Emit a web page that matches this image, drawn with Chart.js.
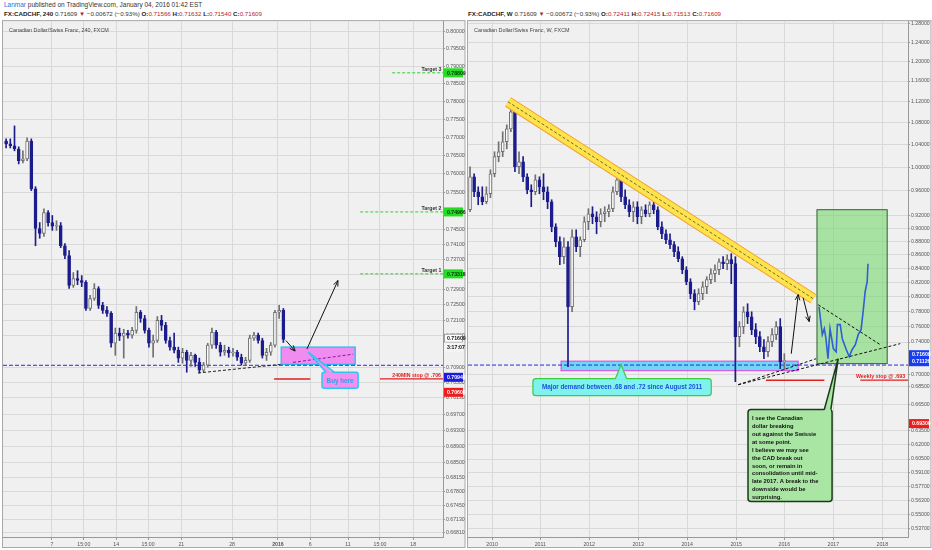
<!DOCTYPE html>
<html>
<head>
<meta charset="utf-8">
<script src="https://cdn.jsdelivr.net/npm/chart.js@4.4.1/dist/chart.umd.min.js"></script>
<style>
body { margin:0; width:932px; height:550px; background:#fff; position:relative; overflow:hidden;
       font-family:"Liberation Sans", Arial, sans-serif; }
.hdr { position:absolute; font-size:6.5px; color:#333; white-space:nowrap; }
.b { font-weight:bold; color:#222; }
.r { color:#b8232f; }
.pane { position:absolute; top:17px; width:466px; height:533px; }
</style>
</head>
<body>
<div class="hdr" style="left:4px;top:1px"><span style="color:#2a6fdb">Lanmar</span> published on TradingView.com, January 04, 2016 01:42 EST</div>
<div class="hdr" style="left:4px;top:10px;font-size:6.2px"><span class="b">FX:CADCHF, 240</span> 0.71609 <span class="r">▼</span> −0.00672 (−0.93%) <span class="b">O:</span><span class="r">0.71566</span> <span class="b">H:</span><span class="r">0.71632</span> <span class="b">L:</span><span class="r">0.71540</span> <span class="b">C:</span><span class="r">0.71609</span></div>
<div class="hdr" style="left:468px;top:10px;font-size:6.2px"><span class="b">FX:CADCHF, W</span> 0.71609 <span class="r">▼</span> −0.00672 (−0.93%) <span class="b">O:</span><span class="r">0.72411</span> <span class="b">H:</span><span class="r">0.72415</span> <span class="b">L:</span><span class="r">0.71513</span> <span class="b">C:</span><span class="r">0.71609</span></div>
<div class="pane" style="left:0"><canvas id="left" width="466" height="533"></canvas></div>
<div class="pane" style="left:466px"><canvas id="right" width="466" height="533"></canvas></div>
<script>
const FONT = '"Liberation Sans", Arial, sans-serif';

// ---- 240 min chart (one candle = 8h) ----
const leftOpen = [
  .7690,.7682,.7677,.7668,.7636,.7641,.7690,.7559,.7452,.7439,
  .7495,.7468,.7458,.7460,.7406,.7380,.7301,.7319,.7314,.7309,
  .7241,.7267,.7293,.7249,.7236,.7228,.7151,.7177,.7169,.7177,
  .7172,.7184,.7231,.7215,.7184,.7151,.7158,.7210,.7197,.7158,
  .7141,.7133,.7113,.7128,.7107,.7120,.7102,.7082,.7095,.7146,
  .7179,.7146,.7128,.7133,.7126,.7128,.7115,.7100,.7107,.7164,
  .7172,.7158,.7120,.7128,.7146,.7231,.7236];
const leftHigh = [
  .7696,.7696,.7732,.7674,.7663,.7699,.7696,.7565,.7468,.7505,
  .7500,.7487,.7473,.7468,.7412,.7393,.7335,.7340,.7327,.7314,
  .7275,.7306,.7298,.7257,.7246,.7233,.7190,.7190,.7187,.7184,
  .7192,.7246,.7236,.7223,.7190,.7172,.7220,.7223,.7205,.7167,
  .7177,.7141,.7138,.7133,.7128,.7123,.7113,.7102,.7151,.7190,
  .7184,.7153,.7146,.7141,.7138,.7133,.7123,.7115,.7172,.7179,
  .7177,.7164,.7138,.7153,.7236,.7249,.7241];
const leftLow = [
  .7671,.7671,.7663,.7627,.7630,.7636,.7554,.7406,.7426,.7431,
  .7458,.7447,.7447,.7401,.7372,.7293,.7296,.7303,.7298,.7236,
  .7236,.7262,.7241,.7228,.7220,.7141,.7120,.7158,.7113,.7164,
  .7164,.7177,.7205,.7177,.7141,.7115,.7153,.7184,.7151,.7133,
  .7126,.7102,.7100,.7077,.7092,.7092,.7075,.7077,.7090,.7138,
  .7138,.7118,.7120,.7115,.7118,.7107,.7095,.7095,.7102,.7158,
  .7151,.7113,.7107,.7120,.7141,.7215,.7153];
const leftClose = [
  .7682,.7677,.7668,.7636,.7641,.7690,.7559,.7452,.7439,.7495,
  .7468,.7458,.7460,.7406,.7380,.7301,.7319,.7314,.7309,.7241,
  .7267,.7293,.7249,.7236,.7228,.7151,.7177,.7169,.7177,.7172,
  .7184,.7231,.7215,.7184,.7151,.7158,.7210,.7197,.7158,.7141,
  .7133,.7113,.7128,.7107,.7120,.7102,.7082,.7095,.7146,.7179,
  .7146,.7128,.7133,.7126,.7128,.7115,.7100,.7107,.7164,.7172,
  .7158,.7120,.7128,.7146,.7231,.7236,.71609];
const leftTickPos  = [10.9, 18.5, 26.2, 33.8, 41.7, 53.8, 64.7, 72.4, 81.4, 89.0, 96.9];
const leftTickText = ['7', '15:00', '14', '15:00', '21', '28', '2016', '6', '11', '15:00', '18'];
const leftPriceTicks = [0.80, 0.795, 0.79, 0.785, 0.78, 0.775, 0.77, 0.765, 0.76, 0.755, 0.745, 0.741,
  0.737, 0.733, 0.729, 0.725, 0.721, 0.717, 0.709, 0.705, 0.7013, 0.697, 0.693, 0.689, 0.685,
  0.6815, 0.678, 0.6745, 0.6713, 0.6681];
const targetNames  = ['Target 3', 'Target 2', 'Target 1'];
const targetPrices = [0.78809, 0.74966, 0.73316];

// ---- weekly chart (one candle per month) ----
const rightOpen = [
  .9294,.9836,.9586,.9504,.9422,.9553,.9888,1.0184,1.0270,1.0448,
  1.0683,1.1002,1.0007,1.0094,.9836,.9619,.9586,.9786,.9668,.9586,
  .9422,.9025,.8796,.8572,.8720,.7864,.8871,.8720,.8826,.9104,
  .9230,.9182,.9104,.9230,.9262,.9310,.9586,.9786,.9504,.9374,
  .9262,.9342,.9182,.9294,.9230,.9374,.9294,.9025,.8917,.8826,
  .8751,.8646,.8542,.8381,.8210,.8043,.7932,.8043,.8140,.8239,
  .8324,.8381,.8498,.8469,.8528,.8469,.7469,.7599,.7796,.7729,
  .7560,.7469,.7341,.7278,.7405,.7495,.7599,.7154];
const rightHigh = [
  1.0007,.9888,.9668,.9668,.9668,.9956,1.0270,1.0448,1.0629,1.0757,
  1.1097,1.1040,1.0270,1.0184,.9888,.9702,.9870,.9836,.9888,.9668,
  .9455,.9072,.8871,.8856,.8796,.8979,.8979,.8871,.9182,.9310,
  .9342,.9262,.9310,.9342,.9374,.9668,.9888,.9836,.9619,.9455,
  .9422,.9422,.9342,.9374,.9422,.9537,.9342,.9104,.8979,.8917,
  .8796,.8720,.8572,.8425,.8253,.8098,.8112,.8210,.8281,.8396,
  .8454,.8542,.8572,.8601,.8616,.8572,.7665,.7864,.7905,.7796,
  .7639,.7534,.7431,.7469,.7573,.7665,.7705,.7253];
const rightLow = [
  .9262,.9504,.9374,.9374,.9390,.9488,.9836,1.0094,1.0184,1.0322,
  1.0629,.9922,.9888,.9752,.9553,.9342,.9537,.9553,.9455,.9310,
  .8948,.8720,.8454,.8469,.7093,.7796,.8646,.8572,.8796,.8979,
  .9072,.8917,.9025,.9104,.9182,.9262,.9537,.9422,.9310,.9182,
  .9104,.9072,.9072,.9182,.9182,.9230,.8979,.8841,.8766,.8690,
  .8572,.8498,.8324,.8168,.7973,.7823,.7891,.7960,.8043,.8182,
  .8210,.8309,.8396,.8381,.8182,.6912,.7341,.7508,.7639,.7495,
  .7380,.7278,.7191,.7216,.7341,.7431,.7069,.7057];
const rightClose = [
  .9836,.9586,.9504,.9422,.9553,.9888,1.0184,1.0270,1.0448,1.0683,
  1.1002,1.0007,1.0094,.9836,.9619,.9586,.9786,.9668,.9586,.9422,
  .9025,.8796,.8572,.8720,.7864,.8871,.8720,.8826,.9104,.9230,
  .9182,.9104,.9230,.9262,.9310,.9586,.9786,.9504,.9374,.9262,
  .9342,.9182,.9294,.9230,.9374,.9294,.9025,.8917,.8826,.8751,
  .8646,.8542,.8381,.8210,.8043,.7932,.8043,.8140,.8239,.8324,
  .8381,.8498,.8469,.8528,.8469,.7469,.7599,.7796,.7729,.7560,
  .7469,.7341,.7278,.7405,.7495,.7599,.7154,.71609];
const rightTickPos  = [5.4, 17.2, 29.2, 41.2, 53.2, 65.2, 77.0, 89.0, 101.0];
const rightTickText = ['2010', '2011', '2012', '2013', '2014', '2015', '2016', '2017', '2018'];
const rightPriceTicks = [1.28, 1.24, 1.20, 1.16, 1.12, 1.08, 1.04, 1.00, 0.96, 0.92, 0.90, 0.88,
  0.86, 0.84, 0.82, 0.80, 0.78, 0.76, 0.74, 0.70, 0.685, 0.665, 0.635, 0.62, 0.605, 0.591,
  0.577, 0.563, 0.55, 0.537];
// hand drawn projection inside the green box
const projX = [85.5, 86.3, 86.8, 87.2, 87.7, 88.2, 89.0, 89.7, 90.0, 90.7, 91.2, 92.1, 92.9, 93.6,
  94.4, 95.1, 95.8, 96.3, 96.8, 97.3, 97.5];
const projY = [.7864, .7495, .7573, .7443, .7191, .7573, .7316, .7278, .7625, .7625, .7443, .7316,
  .7216, .7303, .7367, .7495, .7560, .7796, .8070, .8210, .8469];

const noteLines = ['I see the Canadian', 'dollar breaking', 'out against the Swissie', 'at some point.',
  'I believe we may see', 'the CAD break out', 'soon, or remain in', 'consolidation until mid-',
  'late 2017. A break to the', 'downside would be', 'surprising.'];

function candleSets(open, high, low, close, body) {
  const up = close.map((c, i) => c >= open[i]);
  const dark = '#1c1c8c', grey = '#707070';
  return [
    { type: 'bar', order: 6, grouped: false, barThickness: 1, minBarLength: 1,
      data: low.map((l, i) => ({ x: i, y: [l, high[i]] })),
      backgroundColor: up.map(u => u ? grey : dark) },
    { type: 'bar', order: 5, grouped: false, barThickness: body, minBarLength: 1,
      data: open.map((o, i) => ({ x: i, y: [o, close[i]] })),
      backgroundColor: up.map(u => u ? '#fafafa' : dark),
      borderColor: up.map(u => u ? grey : dark),
      borderWidth: 1, borderSkipped: false }
  ];
}

function seg(pts, color, width, dash, order) {
  return { type: 'line', data: pts.map(p => ({ x: p[0], y: p[1] })), borderColor: color,
    borderWidth: width, borderDash: dash || [], pointRadius: 0, fill: false, tension: 0,
    borderCapStyle: 'butt', order: order === undefined ? 1 : order };
}

function boxPath(ctx, x, y, w, h, r) {
  ctx.beginPath();
  ctx.moveTo(x + r, y); ctx.lineTo(x + w - r, y); ctx.quadraticCurveTo(x + w, y, x + w, y + r);
  ctx.lineTo(x + w, y + h - r); ctx.quadraticCurveTo(x + w, y + h, x + w - r, y + h);
  ctx.lineTo(x + r, y + h); ctx.quadraticCurveTo(x, y + h, x, y + h - r);
  ctx.lineTo(x, y + r); ctx.quadraticCurveTo(x, y, x + r, y); ctx.closePath();
}

function deco(d) {
  return {
    id: 'deco',
    beforeDraw(chart) {
      const { ctx, chartArea: a, width, height } = chart;
      ctx.save();
      ctx.fillStyle = '#fff'; ctx.fillRect(0, 0, width, height);
      ctx.fillStyle = '#f0f0f0'; ctx.fillRect(a.left, a.top, width - 1 - a.left, height - 2 - a.top);
      ctx.strokeStyle = '#a8a8a8'; ctx.lineWidth = 1;
      ctx.strokeRect(a.left - 0.5, a.top - 0.5, width - 0.5 - a.left, height - 2 - a.top);
      ctx.restore();
    },
    beforeDatasetsDraw(chart) {
      const { ctx, scales: { x, y } } = chart;
      ctx.save();
      for (const b of d.boxes) {
        const x1 = x.getPixelForValue(b.x1), x2 = x.getPixelForValue(b.x2);
        const y1 = y.getPixelForValue(b.y1), y2 = y.getPixelForValue(b.y2);
        ctx.fillStyle = b.fill; ctx.fillRect(x1, y1, x2 - x1, y2 - y1);
        ctx.strokeStyle = b.stroke; ctx.lineWidth = b.lw; ctx.strokeRect(x1, y1, x2 - x1, y2 - y1);
      }
      ctx.restore();
    },
    afterDatasetsDraw(chart) {
      const { ctx, scales: { x, y } } = chart;
      ctx.save();
      ctx.strokeStyle = '#111'; ctx.lineWidth = 1;
      for (const r of d.arrows) {
        const x1 = x.getPixelForValue(r[0]), y1 = y.getPixelForValue(r[1]);
        const x2 = x.getPixelForValue(r[2]), y2 = y.getPixelForValue(r[3]);
        const ang = Math.atan2(y2 - y1, x2 - x1), h = 6;
        ctx.beginPath(); ctx.moveTo(x1, y1); ctx.lineTo(x2, y2);
        ctx.moveTo(x2 - h * Math.cos(ang - 0.4), y2 - h * Math.sin(ang - 0.4)); ctx.lineTo(x2, y2);
        ctx.lineTo(x2 - h * Math.cos(ang + 0.4), y2 - h * Math.sin(ang + 0.4));
        ctx.stroke();
      }
      for (const n of d.notes) {
        const x1 = x.getPixelForValue(n.x1), x2 = x.getPixelForValue(n.x2);
        const y1 = y.getPixelForValue(n.y1), y2 = y.getPixelForValue(n.y2);
        const tx = x.getPixelForValue(n.tip[0]), ty = y.getPixelForValue(n.tip[1]);
        const b1 = x.getPixelForValue(n.base[0]), b2 = x.getPixelForValue(n.base[1]);
        ctx.fillStyle = n.fill; ctx.strokeStyle = n.stroke; ctx.lineWidth = n.lw;
        boxPath(ctx, x1, y1, x2 - x1, y2 - y1, n.r); ctx.fill(); ctx.stroke();
        ctx.beginPath(); ctx.moveTo(b1, y1 + n.lw); ctx.lineTo(tx, ty); ctx.lineTo(b2, y1 + n.lw);
        ctx.closePath(); ctx.fill();
        ctx.beginPath(); ctx.moveTo(b1, y1); ctx.lineTo(tx, ty); ctx.lineTo(b2, y1); ctx.stroke();
        ctx.fillStyle = n.color; ctx.font = `bold ${n.size}px ${FONT}`; ctx.textBaseline = 'middle';
        if (n.align === 'center') {
          ctx.textAlign = 'center'; ctx.fillText(n.lines[0], (x1 + x2) / 2, (y1 + y2) / 2 + 0.5);
        } else {
          ctx.textAlign = 'left';
          n.lines.forEach((t, k) => ctx.fillText(t, x1 + 4, y1 + 5 + n.lh * (k + 0.5)));
        }
      }
      for (const t of d.texts) {
        ctx.fillStyle = t.color; ctx.font = `bold ${t.size}px ${FONT}`;
        ctx.textAlign = t.align; ctx.textBaseline = 'bottom';
        ctx.fillText(t.text, x.getPixelForValue(t.x), y.getPixelForValue(t.y) - 1);
      }
      ctx.restore();
    },
    afterDraw(chart) {
      const { ctx, chartArea: a, width, scales: { y } } = chart;
      ctx.save();
      ctx.fillStyle = '#444'; ctx.font = `5.4px ${FONT}`; ctx.textAlign = 'left'; ctx.textBaseline = 'middle';
      ctx.fillText(d.title, a.left + 6, a.top + 9);
      const x0 = a.right + 1;
      for (const t of d.tags) {
        const py = y.getPixelForValue(t.at);
        ctx.fillStyle = t.bg; ctx.fillRect(x0, py - 4.5, width - x0 - 3, 9);
        if (t.border) { ctx.strokeStyle = t.border; ctx.lineWidth = 0.8; ctx.strokeRect(x0 + 0.5, py - 4, width - x0 - 4, 8); }
        ctx.fillStyle = t.fg; ctx.font = `bold 5.2px ${FONT}`;
        ctx.fillText(t.text, x0 + 3, py + 0.3);
      }
      ctx.restore();
    }
  };
}

function options(range, xTicks, xText, yTicks, yRange, axisW, padLeft) {
  return {
    responsive: false, animation: false, devicePixelRatio: 1,
    layout: { padding: { left: padLeft, top: 3, right: 0, bottom: 0 } },
    plugins: { legend: { display: false }, tooltip: { enabled: false } },
    scales: {
      x: {
        type: 'linear', min: range[0], max: range[1], bounds: 'data', offset: false,
        afterBuildTicks: s => { s.ticks = xTicks.map(v => ({ value: v })); },
        afterFit: s => { s.height = 13; },
        grid: { color: '#d9d9d9', offset: false, tickLength: 3, tickColor: '#999' },
        border: { color: '#999' },
        ticks: { autoSkip: false, maxRotation: 0, minRotation: 0, padding: 1, color: '#555',
          font: c => ({ size: 5.2, family: FONT, weight: xText[c.index] === '2016' && xText === leftTickText ? 'bold' : 'normal' }),
          callback: (v, i) => xText[i] }
      },
      y: {
        type: 'logarithmic', position: 'right', min: yRange[0], max: yRange[1], bounds: 'data',
        afterBuildTicks: s => { s.ticks = yTicks.map(v => ({ value: v })); },
        afterFit: s => { s.width = axisW; },
        grid: { color: '#d9d9d9', tickLength: 2, tickColor: '#999' },
        border: { color: '#999' },
        ticks: { autoSkip: false, padding: 1, color: '#555', font: { size: 5.2, family: FONT },
          callback: v => Number(v).toFixed(5) }
      }
    }
  };
}

// ---------- left (240) ----------
const L_MIN = -0.74, L_MAX = 104.0;
const leftSets = [
  ...candleSets(leftOpen, leftHigh, leftLow, leftClose, 3),
  seg([[L_MIN, 0.70946], [L_MAX, 0.70946]], '#2828e8', 1, [4, 2], 8),
  seg([[91.9, targetPrices[0]], [L_MAX, targetPrices[0]]], '#2fcf2f', 1, [3, 2]),
  seg([[84.3, targetPrices[1]], [L_MAX, targetPrices[1]]], '#2fcf2f', 1, [3, 2]),
  seg([[84.3, targetPrices[2]], [L_MAX, targetPrices[2]]], '#2fcf2f', 1, [3, 2]),
  seg([[45.7, 0.7075], [65.5, 0.7097]], '#222', 1, [3, 2]),
  seg([[68.3, 0.7102], [82.6, 0.7123]], '#7b1fa2', 1, [3, 2]),
  seg([[63.8, 0.706], [72.4, 0.706]], '#e02020', 1.5),
  seg([[89.0, 0.706], [L_MAX, 0.706]], '#e02020', 1.2)
];
new Chart(document.getElementById('left'), {
  type: 'bar',
  data: { datasets: leftSets },
  options: options([L_MIN, L_MAX], leftTickPos, leftTickText, leftPriceTicks, [0.6670, 0.80287], 23, 3),
  plugins: [deco({
    title: 'Canadian Dollar/Swiss Franc, 240, FXCM',
    boxes: [{ x1: 65.5, x2: 83.1, y1: 0.7141, y2: 0.7097, fill: '#f08cf0', stroke: '#2ec4f4', lw: 1.5 }],
    arrows: [[66.6, 0.7158, 68.8, 0.7131], [71.6, 0.7136, 79.0, 0.7314]],
    notes: [{ x1: 75.2, x2: 83.8, y1: 0.7077, y2: 0.7036, tip: [71.9, 0.7128], base: [76.2, 78.1],
      fill: '#f190ee', stroke: '#2ec4f4', lw: 1.5, r: 2, lines: ['Buy here'], color: '#2b9ff0',
      size: 6.3, align: 'center' }],
    texts: [
      ...targetNames.map((t, i) => ({ x: 103.6, y: targetPrices[i], text: t, color: '#333', size: 5.2, align: 'right' })),
      { x: 103.5, y: 0.706, text: '240MIN stop @ .706', color: '#e02020', size: 5.2, align: 'right' }
    ],
    tags: [
      { text: '0.78809', at: 0.78809, bg: '#22dd22', fg: '#063306' },
      { text: '0.74966', at: 0.74966, bg: '#22dd22', fg: '#063306' },
      { text: '0.73316', at: 0.73316, bg: '#22dd22', fg: '#063306' },
      { text: '0.71609', at: 0.7164, bg: '#ffffff', fg: '#111', border: '#888' },
      { text: '3:17:07', at: 0.7141, bg: '#f4f4f4', fg: '#111' },
      { text: '0.70946', at: 0.7064, bg: '#1a1ae0', fg: '#fff' },
      { text: '0.70600', at: 0.7026, bg: '#ee1c1c', fg: '#fff' }
    ]
  })]
});

// ---------- right (weekly) ----------
const R_MIN = -0.5, R_MAX = 107.3;
const rightSets = [
  ...candleSets(rightOpen, rightHigh, rightLow, rightClose, 3),
  seg([[R_MIN, 0.71126], [R_MAX, 0.71126]], '#2828e8', 1, [4, 2], 8),
  seg([[9.3, 1.1192], [84.1, 0.7973]], '#f3a12a', 11, [], 4),
  seg([[9.3, 1.1192], [84.1, 0.7973]], 'rgba(255,232,80,0.92)', 9, [], 3),
  seg([[9.3, 1.1192], [84.1, 0.7973]], '#4a4a2a', 0.8, [3, 2], 2),
  seg([[85.3, 0.7891], [100.5, 0.7367]], '#111', 1, [3, 2]),
  seg([[65.7, 0.6876], [105.4, 0.7380]], '#111', 1, [3, 2]),
  seg([[65.7, 0.6876], [84.8, 0.7191]], '#111', 1, [3, 2]),
  seg([[72.5, 0.693], [86.8, 0.693]], '#e02020', 1.5),
  seg([[95.6, 0.693], [R_MAX, 0.693]], '#e02020', 1.2),
  { type: 'line', data: projX.map((v, i) => ({ x: v, y: projY[i] })), borderColor: '#2f5fd6',
    borderWidth: 1.6, pointRadius: 0, tension: 0, fill: false, order: 1 }
];
new Chart(document.getElementById('right'), {
  type: 'bar',
  data: { datasets: rightSets },
  options: options([R_MIN, R_MAX], rightTickPos, rightTickText, rightPriceTicks, [0.529, 1.286], 24, 2),
  plugins: [deco({
    title: 'Canadian Dollar/Swiss Franc, W, FXCM',
    boxes: [
      { x1: 22.3, x2: 80.4, y1: 0.7161, y2: 0.7044, fill: 'rgba(70,205,245,0.75)', stroke: '#e040e0', lw: 1 },
      { x1: 85.0, x2: 102.2, y1: 0.9294, y2: 0.7130, fill: 'rgba(110,215,100,0.55)', stroke: '#2f5f2f', lw: 1 }
    ],
    arrows: [[78.7, 0.7253, 80.4, 0.8030], [81.6, 0.7987, 83.1, 0.7665]],
    notes: [
      { x1: 15.4, x2: 59.1, y1: 0.6948, y2: 0.6748, tip: [37.0, 0.7117], base: [35.6, 38.4],
        fill: '#7ff2ee', stroke: '#3ccc44', lw: 1.2, r: 3,
        lines: ['Major demand between .68 and .72 since August 2011'], color: '#1d4fe0', size: 6.3, align: 'center' },
      { x1: 68.1, x2: 88.7, y1: 0.6588, y2: 0.5623, tip: [90.2, 0.7191], base: [86.8, 88.4],
        fill: '#a9e6a4', stroke: '#1b3a1b', lw: 1.5, r: 3, lines: noteLines, color: '#111',
        size: 5.8, align: 'left', lh: 7.9 }
    ],
    texts: [{ x: 106.6, y: 0.693, text: 'Weekly stop @ .693', color: '#e02020', size: 5.3, align: 'right' }],
    tags: [
      { text: '0.71609', at: 0.7241, bg: '#1a3cf0', fg: '#fff' },
      { text: '0.71126', at: 0.7154, bg: '#1a3cf0', fg: '#fff' },
      { text: '0.69300', at: 0.6431, bg: '#ee1c1c', fg: '#fff' }
    ]
  })]
});
</script>
</body>
</html>
